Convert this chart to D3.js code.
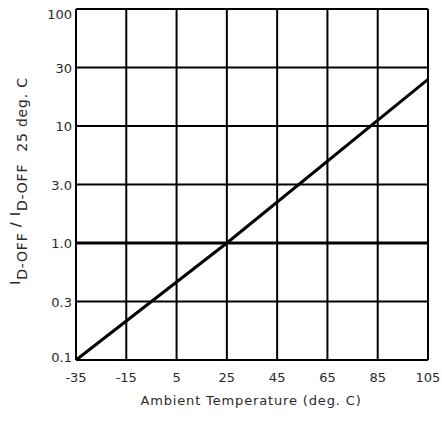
<!DOCTYPE html>
<html>
<head>
<script src="https://d3js.org/d3.v7.min.js"></script>
<style>
  body { margin: 0; background: #fff; }
  text { font-family: "DejaVu Sans", sans-serif; fill: #2a2a2a; }
</style>
</head>
<body>
<script>
// tick values along each axis
var xTicks = [-35, -15, 5, 25, 45, 65, 85, 105];
var yTicks = [0.1, 0.3, 1, 3, 10, 30, 100];
var yTickLabels = ["0.1", "0.3", "1.0", "3.0", "10", "30", "100"];

// normalised leakage curve (temperature, ratio)
var curveTemp = [-35, 25, 105];
var curveRatio = [0.1, 1.0, 24];

// reference line at 1.0
var refRatio = 1.0;

var margin = {top: 9, right: 14, bottom: 61, left: 76},
    width = 442 - margin.left - margin.right,
    height = 421 - margin.top - margin.bottom;

var svg = d3.select("body").append("svg")
    .attr("width", 442)
    .attr("height", 421)
  .append("g")
    .attr("transform", "translate(" + margin.left + "," + margin.top + ")");

var x = d3.scaleLinear().domain([-35, 105]).range([0, width]);

// grid is drawn with evenly spaced 1-3-10 steps, so use a piecewise log scale
var y = d3.scaleLog()
    .domain(yTicks)
    .range(yTicks.map(function(d, i) { return height - i * height / (yTicks.length - 1); }));

// vertical grid lines
svg.selectAll(".vgrid")
    .data(xTicks)
  .enter().append("line")
    .attr("x1", function(d) { return x(d); })
    .attr("x2", function(d) { return x(d); })
    .attr("y1", 0)
    .attr("y2", height)
    .attr("stroke", "#000")
    .attr("stroke-width", 2);

// horizontal grid lines
svg.selectAll(".hgrid")
    .data(yTicks)
  .enter().append("line")
    .attr("x1", 0)
    .attr("x2", width)
    .attr("y1", function(d) { return y(d); })
    .attr("y2", function(d) { return y(d); })
    .attr("stroke", "#000")
    .attr("stroke-width", 2);

// 1.0 reference line
svg.append("line")
    .attr("x1", 0)
    .attr("x2", width)
    .attr("y1", y(refRatio))
    .attr("y2", y(refRatio))
    .attr("stroke", "#000")
    .attr("stroke-width", 3);

// curve
var line = d3.line()
    .x(function(d) { return x(d[0]); })
    .y(function(d) { return y(d[1]); });

svg.append("path")
    .datum(d3.zip(curveTemp, curveRatio))
    .attr("fill", "none")
    .attr("stroke", "#000")
    .attr("stroke-width", 3)
    .attr("d", line);

// x tick labels
svg.selectAll(".xlab")
    .data(xTicks)
  .enter().append("text")
    .attr("x", function(d) { return x(d); })
    .attr("y", height + 22)
    .attr("text-anchor", "middle")
    .style("font-size", "13px")
    .text(function(d) { return d; });

// y tick labels
svg.selectAll(".ylab")
    .data(yTicks)
  .enter().append("text")
    .attr("x", -4)
    .attr("y", function(d, i) {
      var yy = y(d) + 5;
      if (i === yTicks.length - 1) yy += 5;
      if (i === 0) yy -= 3;
      return yy;
    })
    .attr("text-anchor", "end")
    .style("font-size", "13px")
    .text(function(d, i) { return yTickLabels[i]; });

// x axis title
svg.append("text")
    .attr("x", width / 2 - 1)
    .attr("y", height + 45)
    .attr("text-anchor", "middle")
    .style("font-size", "13px")
    .style("letter-spacing", "0.85px")
    .text("Ambient Temperature (deg. C)");

// y axis title
var yt = svg.append("text")
    .attr("transform", "translate(" + (20 - margin.left) + "," + (181 - margin.top) + ") rotate(-90)")
    .attr("text-anchor", "middle")
    .style("font-size", "14px")
    .style("letter-spacing", "0.8px");
yt.append("tspan").text("I");
yt.append("tspan").attr("dy", 7).text("D-OFF ");
yt.append("tspan").attr("dy", -7).style("font-weight", "bold").text("/");
yt.append("tspan").text(" I");
yt.append("tspan").attr("dy", 7).text("D-OFF");
yt.append("tspan").attr("dx", 12).text("25 deg. C");
</script>
</body>
</html>
